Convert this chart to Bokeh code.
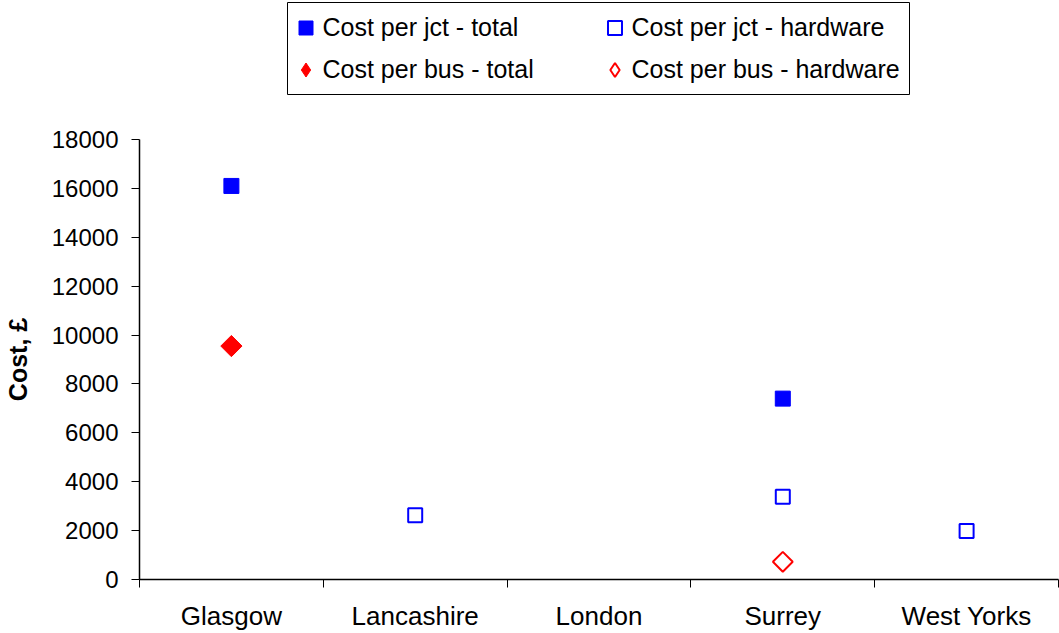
import math
from bokeh.plotting import figure
from bokeh.layouts import column
from bokeh.models import Range1d, FixedTicker, Legend, LegendItem, ColumnDataSource, BoxAnnotation
from bokeh.embed import file_html
from bokeh.resources import INLINE

nan = float("nan")

categories = ["Glasgow", "Lancashire", "London", "Surrey", "West Yorks"]
jct_total = [16100, nan, nan, 7400, nan]
jct_hardware = [nan, 2630, nan, 3390, 1980]
bus_total = [9550, nan, nan, nan, nan]
bus_hardware = [nan, nan, nan, 725, nan]
y_ticks = [0, 2000, 4000, 6000, 8000, 10000, 12000, 14000, 16000, 18000]
series_labels = ["Cost per jct - total", "Cost per jct - hardware",
                 "Cost per bus - total", "Cost per bus - hardware"]

FONT = "Liberation Sans"
BLUE = "#0000FF"
RED = "#FF0000"

styles = [
    dict(marker="square", angle=0.0, size=15, fill_color=BLUE, line_color=BLUE, line_width=1),
    dict(marker="square", angle=0.0, size=14, fill_color=None, line_color=BLUE, line_width=2),
    dict(marker="square", angle=math.pi / 4, size=15, fill_color=RED, line_color=RED, line_width=1),
    dict(marker="square", angle=math.pi / 4, size=14, fill_color=None, line_color=RED, line_width=2),
]
# legend swatches (legend glyphs are drawn unrotated, so use the diamond marker there)
legend_styles = [
    dict(marker="square", fill_color=BLUE, line_color=BLUE, line_width=1),
    dict(marker="square", fill_color=None, line_color=BLUE, line_width=2),
    dict(marker="diamond", fill_color=RED, line_color=RED, line_width=1),
    dict(marker="diamond", fill_color=None, line_color=RED, line_width=2),
]

xpos = [i + 0.5 for i in range(len(categories))]
src = ColumnDataSource(dict(x=xpos, jt=jct_total, jh=jct_hardware, bt=bus_total, bh=bus_hardware))

# ---------- legend strip ----------
LH = 119
lf = figure(width=1059, height=LH, output_backend="svg", toolbar_location=None,
            x_axis_location=None, y_axis_location=None,
            x_range=Range1d(0, 1), y_range=Range1d(0, 1),
            min_border_left=0, min_border_right=0, min_border_top=0, min_border_bottom=0)
lf.outline_line_color = None
lf.xgrid.visible = False
lf.ygrid.visible = False
lrs = [lf.scatter(x=[-100], y=[-100], **st) for st in legend_styles]
items = [LegendItem(label=l, renderers=[r]) for l, r in zip(series_labels, lrs)]
# column-major fill: col 1 = totals, col 2 = hardware
legend = Legend(items=[items[0], items[2], items[1], items[3]],
                ncols=2, location=(148.5, 31.5), padding=0, spacing=5,
                glyph_width=35, glyph_height=37, label_standoff=0, label_width=269,
                label_text_font=FONT, label_text_font_size="25px", label_text_color="black",
                border_line_color=None, background_fill_alpha=0, margin=0)
lf.add_layout(legend, "center")
frame_box = BoxAnnotation(left=148, right=770, bottom=25, top=117,
                          left_units="screen", right_units="screen",
                          bottom_units="screen", top_units="screen",
                          fill_color=None, fill_alpha=0, line_color="black", line_width=1,
                          line_alpha=1)
lf.add_layout(frame_box)

# ---------- main chart ----------
p = figure(width=1059, height=633 - LH, output_backend="svg", toolbar_location=None,
           x_range=Range1d(0, len(categories)), y_range=Range1d(0, 18000),
           min_border_left=139, min_border_right=1, min_border_top=139 - LH, min_border_bottom=54)
p.outline_line_color = None
p.xgrid.visible = False
p.ygrid.visible = False

cols = ["jt", "jh", "bt", "bh"]
for c, st in zip(cols, styles):
    p.scatter("x", c, source=src, **st)

ya = p.yaxis[0]
ya.ticker = FixedTicker(ticks=y_ticks)
ya.major_tick_out = 8
ya.major_tick_in = 0
ya.minor_tick_out = 0
ya.minor_tick_in = 0
ya.major_label_text_font = FONT
ya.major_label_text_font_size = "24px"
ya.major_label_text_color = "black"
ya.major_label_standoff = 13
ya.axis_line_width = 1.5
ya.axis_line_color = "black"
ya.major_tick_line_color = "black"
ya.axis_label = "Cost, £"
ya.axis_label_text_font = FONT
ya.axis_label_text_font_size = "25px"
ya.axis_label_text_font_style = "bold"
ya.axis_label_text_color = "black"
ya.axis_label_standoff = 17

xa = p.xaxis[0]
xa.ticker = FixedTicker(ticks=xpos, minor_ticks=list(range(len(categories) + 1)))
xa.major_label_overrides = {x: c for x, c in zip(xpos, categories)}
xa.major_tick_out = 0
xa.major_tick_in = 0
xa.minor_tick_out = 8
xa.minor_tick_in = 0
xa.minor_tick_line_color = "black"
xa.major_label_text_font = FONT
xa.major_label_text_font_size = "26px"
xa.major_label_text_color = "black"
xa.major_label_standoff = 13
xa.axis_line_width = 1.5
xa.axis_line_color = "black"

layout = column(lf, p, spacing=0)
open("out.html", "w").write(file_html(layout, INLINE))
